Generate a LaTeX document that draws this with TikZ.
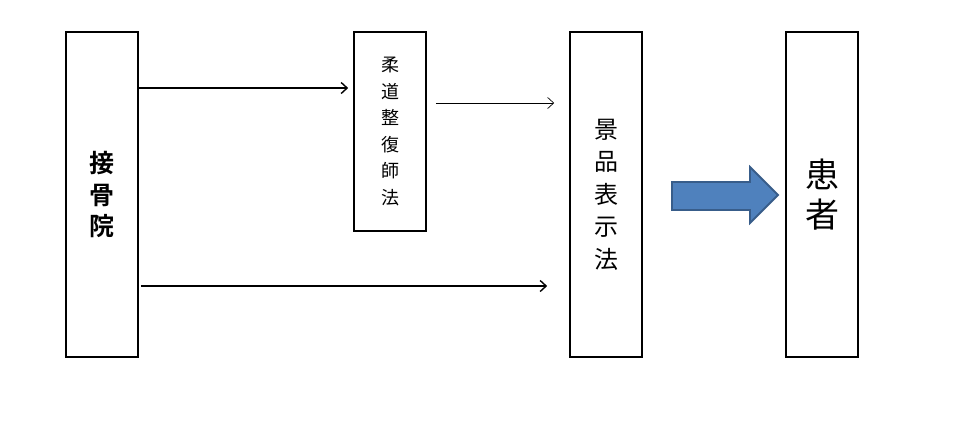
\documentclass[tikz,border=0pt]{standalone}
\usepackage{fontspec}
\setmainfont{Noto Sans CJK JP}[BoldFont={Noto Sans CJK JP Bold}]
\usepackage{xcolor}
\usetikzlibrary{arrows.meta,positioning,calc}

\definecolor{officeblue}{HTML}{4F81BD}
\definecolor{officeline}{HTML}{385D8A}

\begin{document}
\begin{tikzpicture}[x=1pt, y=-1pt, >={Straight Barb[length=6pt,width=11pt]}]
    \useasboundingbox (0,0) rectangle (958,421);
    \tikzset{
        box/.style={draw, line width=1.6pt, minimum width=72pt, inner sep=0pt, align=center},
        link/.style={->, line width=1.4pt},
        thinlink/.style={->, line width=0.7pt}
    }

    % Boxes
    \node[box, minimum height=325pt, font=\fontsize{25}{31.5}\selectfont\bfseries] (sekkotsu) at (102,194.5) {接\\骨\\院};
    \node[box, minimum height=199pt, font=\fontsize{18}{26.5}\selectfont] (judo) at (390,131.5) {柔\\道\\整\\復\\師\\法};
    \node[box, minimum height=325pt, font=\fontsize{24}{32.5}\selectfont] (keihin) at (606,194.5) {景\\品\\表\\示\\法};
    \node[box, minimum height=325pt, font=\fontsize{34}{40}\selectfont] (kanja) at (822,194.5) {患\\者};

    % Arrows between boxes
    \draw[link, shorten >=5pt] (sekkotsu.east |- 0,88) -- (judo.west |- 0,88);
    \draw[thinlink, shorten <=9pt, shorten >=15pt] (judo.east |- 0,103) -- (keihin.west |- 0,103);
    \draw[link, shorten <=2pt, shorten >=22pt] (sekkotsu.east |- 0,286) -- (keihin.west |- 0,286);

    % Block arrow to the patient
    \draw[fill=officeblue, draw=officeline, line width=1.8pt, line join=miter]
        (672,182) -- (750,182) -- (750,167) -- (778,195) -- (750,223) -- (750,210) -- (672,210) -- cycle;

\end{tikzpicture}
\end{document}
